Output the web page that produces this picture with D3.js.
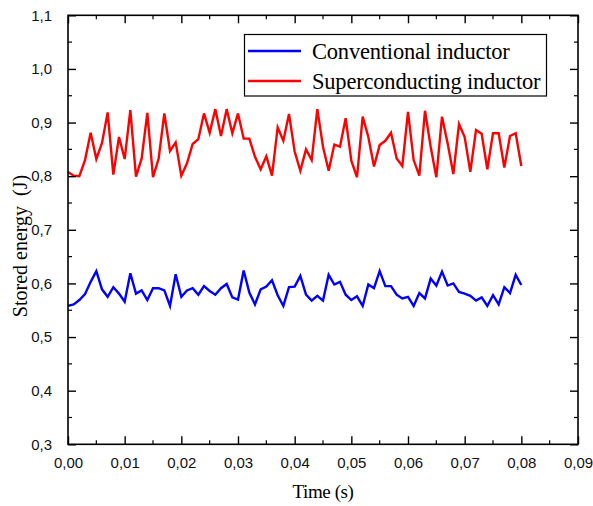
<!DOCTYPE html>
<html>
<head>
<meta charset="utf-8">
<script src="https://cdn.jsdelivr.net/npm/d3@7/dist/d3.min.js"></script>
<style>
  html, body { margin: 0; padding: 0; background: #fff; }
  svg { display: block; }
</style>
</head>
<body>
<script>
// Time base: one sample every 1 ms from 0 to 80 ms
const timeStep = 0.001;
const sampleCount = 81;

// Stored energy (J) in the superconducting inductor
const superconducting = [
  0.808, 0.801, 0.800, 0.830, 0.881, 0.832, 0.862, 0.919, 0.803, 0.873,
  0.832, 0.923, 0.799, 0.833, 0.918, 0.798, 0.833, 0.917, 0.847, 0.863,
  0.801, 0.824, 0.860, 0.869, 0.917, 0.881, 0.925, 0.875, 0.925, 0.880,
  0.917, 0.870, 0.870, 0.836, 0.813, 0.837, 0.801, 0.891, 0.866, 0.916,
  0.846, 0.810, 0.850, 0.830, 0.925, 0.855, 0.810, 0.859, 0.855, 0.908,
  0.829, 0.798, 0.911, 0.873, 0.818, 0.858, 0.866, 0.881, 0.833, 0.819,
  0.920, 0.830, 0.801, 0.922, 0.855, 0.798, 0.911, 0.861, 0.804, 0.897,
  0.873, 0.808, 0.886, 0.879, 0.813, 0.880, 0.880, 0.816, 0.875, 0.880,
  0.819
];

// Stored energy (J) in the conventional inductor
const conventional = [
  0.558, 0.561, 0.569, 0.580, 0.603, 0.623, 0.589, 0.575, 0.593, 0.581,
  0.566, 0.619, 0.581, 0.587, 0.569, 0.591, 0.591, 0.587, 0.558, 0.617,
  0.575, 0.587, 0.591, 0.579, 0.595, 0.586, 0.579, 0.591, 0.599, 0.574,
  0.570, 0.624, 0.583, 0.561, 0.589, 0.594, 0.606, 0.578, 0.558, 0.593,
  0.594, 0.614, 0.579, 0.568, 0.577, 0.568, 0.616, 0.598, 0.603, 0.579,
  0.569, 0.576, 0.558, 0.598, 0.591, 0.623, 0.595, 0.595, 0.579, 0.572,
  0.575, 0.558, 0.582, 0.572, 0.609, 0.596, 0.622, 0.596, 0.600, 0.584,
  0.581, 0.577, 0.568, 0.574, 0.558, 0.578, 0.561, 0.593, 0.582, 0.616,
  0.597
];

const times = d3.range(sampleCount).map(i => i * timeStep);

const xTicks = [0, 0.01, 0.02, 0.03, 0.04, 0.05, 0.06, 0.07, 0.08, 0.09];
const yTicks = [0.3, 0.4, 0.5, 0.6, 0.7, 0.8, 0.9, 1.0, 1.1];
const xMinorTicks = d3.range(0.005, 0.09, 0.01);
const yMinorTicks = d3.range(0.35, 1.1, 0.1);

const seriesNames = ["Conventional inductor", "Superconducting inductor"];
const seriesColors = ["#0000ff", "#ff0000"];
const seriesValues = [conventional, superconducting];

const xTitle = "Time (s)";
const yTitle = "Stored energy  (J)";

const W = 593, H = 506;
const margin = { left: 68, top: 15.3, right: 15, bottom: 62 };
const plotW = 578 - margin.left;
const plotH = 444.3 - margin.top;

const svg = d3.select("body").append("svg")
  .attr("width", W).attr("height", H);

const x = d3.scaleLinear().domain([0, 0.09]).range([0, plotW]);
const y = d3.scaleLinear().domain([0.3, 1.1]).range([plotH, 0]);

const g = svg.append("g").attr("transform", `translate(${margin.left},${margin.top})`);

const commaFmt = (digits) => (d) => d3.format(`.${digits}f`)(d).replace(".", ",");

// Data lines
const line = d3.line()
  .x((d, i) => x(times[i]))
  .y(d => y(d));

seriesValues.forEach((vals, k) => {
  g.append("path")
    .datum(vals)
    .attr("fill", "none")
    .attr("stroke", seriesColors[k])
    .attr("stroke-width", 2.4)
    .attr("stroke-linejoin", "miter")
    .attr("stroke-miterlimit", 4)
    .attr("d", line);
});

// Frame
g.append("rect")
  .attr("x", 0).attr("y", 0)
  .attr("width", plotW).attr("height", plotH)
  .attr("fill", "none").attr("stroke", "#000").attr("stroke-width", 1.6);

const tickFont = "'Liberation Sans', Arial, sans-serif";

// Bottom axis (ticks pointing inward)
const xAxis = d3.axisBottom(x).tickValues(xTicks).tickFormat(commaFmt(2))
  .tickSizeInner(-8).tickSizeOuter(0).tickPadding(13);
const xg = g.append("g").attr("transform", `translate(0,${plotH})`).call(xAxis);
xg.select(".domain").remove();
xg.selectAll(".tick line").attr("stroke-width", 1.4);
xg.selectAll("text").attr("font-family", tickFont).attr("font-size", 15).attr("fill", "#111");
xg.selectAll(".minor").data(xMinorTicks).enter().append("line")
  .attr("x1", d => x(d)).attr("x2", d => x(d))
  .attr("y1", 0).attr("y2", -4).attr("stroke", "#000").attr("stroke-width", 1.2);

// Top axis ticks
const xTop = d3.axisTop(x).tickValues(xTicks).tickFormat("").tickSizeInner(-8).tickSizeOuter(0);
const xtg = g.append("g").call(xTop);
xtg.select(".domain").remove();
xtg.selectAll(".tick line").attr("stroke-width", 1.4);
xtg.selectAll(".minor").data(xMinorTicks).enter().append("line")
  .attr("x1", d => x(d)).attr("x2", d => x(d))
  .attr("y1", 0).attr("y2", 4).attr("stroke", "#000").attr("stroke-width", 1.2);

// Left axis
const yAxis = d3.axisLeft(y).tickValues(yTicks).tickFormat(commaFmt(1))
  .tickSizeInner(-8).tickSizeOuter(0).tickPadding(16);
const yg = g.append("g").call(yAxis);
yg.select(".domain").remove();
yg.selectAll(".tick line").attr("stroke-width", 1.4);
yg.selectAll("text").attr("font-family", tickFont).attr("font-size", 15).attr("fill", "#111");
yg.selectAll(".minor").data(yMinorTicks).enter().append("line")
  .attr("y1", d => y(d)).attr("y2", d => y(d))
  .attr("x1", 0).attr("x2", 4).attr("stroke", "#000").attr("stroke-width", 1.2);

// Right axis ticks
const yRight = d3.axisRight(y).tickValues(yTicks).tickFormat("").tickSizeInner(-8).tickSizeOuter(0);
const yrg = g.append("g").attr("transform", `translate(${plotW},0)`).call(yRight);
yrg.select(".domain").remove();
yrg.selectAll(".tick line").attr("stroke-width", 1.4);
yrg.selectAll(".minor").data(yMinorTicks).enter().append("line")
  .attr("y1", d => y(d)).attr("y2", d => y(d))
  .attr("x1", 0).attr("x2", -4).attr("stroke", "#000").attr("stroke-width", 1.2);

const serif = "'Liberation Serif', 'Times New Roman', serif";

// Axis titles
svg.append("text")
  .attr("x", 323).attr("y", 498)
  .attr("text-anchor", "middle")
  .attr("font-family", serif).attr("font-size", 19).attr("fill", "#000")
  .attr("letter-spacing", -0.4)
  .style("white-space", "pre")
  .text(xTitle);

svg.append("text")
  .attr("transform", `translate(27,246) rotate(-90)`)
  .attr("text-anchor", "middle")
  .attr("font-family", serif).attr("font-size", 20).attr("fill", "#000")
  .style("white-space", "pre")
  .text(yTitle);

// Legend
const lg = svg.append("g");
lg.append("rect")
  .attr("x", 244.5).attr("y", 34.5).attr("width", 302).attr("height", 61.5)
  .attr("fill", "#fff").attr("stroke", "#000").attr("stroke-width", 1.2);
seriesNames.forEach((name, k) => {
  const ly = 51 + k * 30;
  lg.append("line")
    .attr("x1", 248).attr("x2", 301).attr("y1", ly).attr("y2", ly)
    .attr("stroke", seriesColors[k]).attr("stroke-width", 2.4);
  lg.append("text")
    .attr("x", 312).attr("y", ly + 7.5)
    .attr("font-family", serif).attr("font-size", 22.5).attr("fill", "#000")
    .attr("letter-spacing", -0.2)
    .text(name);
});
</script>
</body>
</html>
